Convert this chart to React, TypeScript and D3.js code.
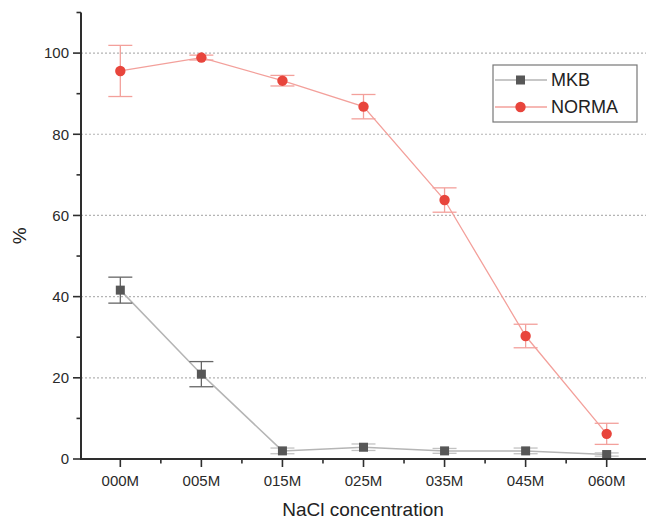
import React from "react";
import * as d3 from "d3";

const categories = ["000M", "005M", "015M", "025M", "035M", "045M", "060M"];
const normaValues = [95.6, 98.9, 93.2, 86.8, 63.8, 30.3, 6.2];
const normaErrors = [6.3, 0.6, 1.3, 3.0, 3.0, 2.9, 2.6];
const mkbValues = [41.6, 20.9, 2.0, 2.9, 2.0, 2.0, 1.1];
const mkbErrors = [3.2, 3.1, 0.7, 0.8, 0.6, 0.7, 0.4];
const yTicks = [0, 20, 40, 60, 80, 100];
const yMinor = [10, 30, 50, 70, 90, 110];
const legendLabels = ["MKB", "NORMA"];

const W = 646;
const H = 522;
const FONT = "'Liberation Sans', Arial, sans-serif";

export default function App() {
  const x = d3.scaleLinear().domain([-0.485, 6.485]).range([81, 646]);
  const y = d3.scaleLinear().domain([0, 110]).range([459, 12.5]);
  const idx = categories.map((_, i) => i);
  const line = d3
    .line<number>()
    .x((d, i) => x(i))
    .y((d) => y(d));

  const redDark = "#e8453c";
  const redLight = "#f3a09b";
  const grayDark = "#575757";
  const grayLine = "#b5b5b5";
  const axisColor = "#2e2e2e";
  const cap = 12;

  const errBars = (vals: number[], errs: number[], color: (i: number) => string, key: string) =>
    vals.map((v, i) => {
      const cx = x(i);
      const t = y(v + errs[i]);
      const b = y(v - errs[i]);
      return (
        <g key={key + i} stroke={color(i)} strokeWidth={1.3} fill="none">
          <line x1={cx} x2={cx} y1={t} y2={b} />
          <line x1={cx - cap} x2={cx + cap} y1={t} y2={t} />
          <line x1={cx - cap} x2={cx + cap} y1={b} y2={b} />
        </g>
      );
    });

  const minorX = d3.range(-0.5, 7, 1).filter((v) => v > -0.48 && v < 6.48);

  return (
    <svg
      width={W}
      height={H}
      style={{ position: "absolute", left: 0, top: 0, background: "#fff" }}
      fontFamily={FONT}
    >
      {/* grid */}
      {yTicks
        .filter((t) => t > 0)
        .map((t) => (
          <line
            key={"g" + t}
            x1={x(-0.485)}
            x2={W}
            y1={y(t)}
            y2={y(t)}
            stroke="#b4b4b4"
            strokeWidth={1.2}
            strokeDasharray="2,2"
          />
        ))}

      {/* MKB */}
      <path d={line(mkbValues) || ""} fill="none" stroke={grayLine} strokeWidth={1.5} />
      {errBars(mkbValues, mkbErrors, (i) => (i < 2 ? "#666" : "#c2c2c2"), "me")}
      {mkbValues.map((v, i) => (
        <rect key={"m" + i} x={x(i) - 4.5} y={y(v) - 4.5} width={9} height={9} fill={grayDark} />
      ))}

      {/* NORMA */}
      <path d={line(normaValues) || ""} fill="none" stroke={redLight} strokeWidth={1.3} />
      {errBars(normaValues, normaErrors, () => redLight, "ne")}
      {normaValues.map((v, i) => (
        <circle key={"n" + i} cx={x(i)} cy={y(v)} r={5.2} fill={redDark} />
      ))}

      {/* axes */}
      <line x1={x(-0.485)} x2={x(-0.485)} y1={y(110)} y2={y(0)} stroke={axisColor} strokeWidth={2} />
      <line x1={x(-0.485) - 1} x2={W} y1={y(0)} y2={y(0)} stroke={axisColor} strokeWidth={2} />
      {yTicks.map((t) => (
        <g key={"yt" + t}>
          <line x1={x(-0.485) - 8} x2={x(-0.485)} y1={y(t)} y2={y(t)} stroke={axisColor} strokeWidth={1.6} />
          <text
            x={x(-0.485) - 12}
            y={y(t)}
            dy="0.36em"
            textAnchor="end"
            fontSize={15}
            fill="#2a2a2a"
          >
            {t}
          </text>
        </g>
      ))}
      {yMinor.map((t) => (
        <line key={"ym" + t} x1={x(-0.485) - 4.5} x2={x(-0.485)} y1={y(t)} y2={y(t)} stroke={axisColor} strokeWidth={1.6} />
      ))}
      {idx.map((i) => (
        <g key={"xt" + i}>
          <line x1={x(i)} x2={x(i)} y1={y(0)} y2={y(0) + 8} stroke={axisColor} strokeWidth={1.6} />
          <text x={x(i)} y={y(0) + 27} textAnchor="middle" fontSize={15} fill="#2a2a2a">
            {categories[i]}
          </text>
        </g>
      ))}
      {minorX.map((v) => (
        <line key={"xm" + v} x1={x(v)} x2={x(v)} y1={y(0)} y2={y(0) + 4.5} stroke={axisColor} strokeWidth={1.6} />
      ))}

      {/* axis titles */}
      <text x={363} y={516} textAnchor="middle" fontSize={19} fill="#222">
        NaCl concentration
      </text>
      <text
        transform={`translate(${26},${y(55)}) rotate(-90)`}
        textAnchor="middle"
        fontSize={19}
        fill="#222"
      >
        %
      </text>

      {/* legend */}
      <rect x={493} y={65} width={144} height={57} fill="#fff" stroke="#777" strokeWidth={1.2} />
      {legendLabels.map((lab, k) => {
        const ly = 80 + k * 27;
        return (
          <g key={"lg" + k}>
            <line x1={495} x2={547} y1={ly} y2={ly} stroke={k === 0 ? grayLine : redLight} strokeWidth={1.5} />
            {k === 0 ? (
              <rect x={516} y={ly - 4.5} width={9} height={9} fill={grayDark} />
            ) : (
              <circle cx={520.5} cy={ly} r={5.2} fill={redDark} />
            )}
            <text x={551} y={ly} dy="0.36em" fontSize={18} fill="#222">
              {lab}
            </text>
          </g>
        );
      })}
    </svg>
  );
}
